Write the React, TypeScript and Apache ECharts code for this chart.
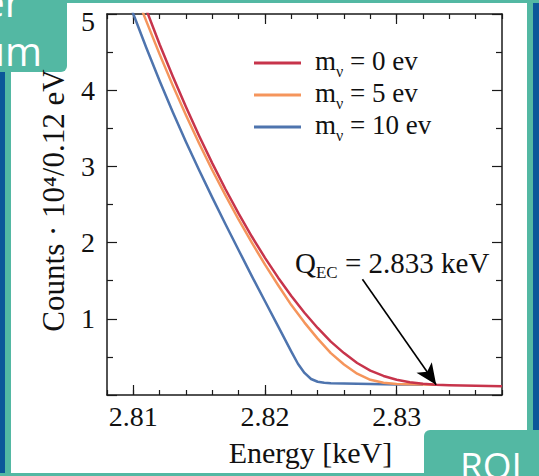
import React, { useEffect, useRef } from 'react';
import * as echarts from 'echarts';

const SERIF = '"Liberation Serif", "Times New Roman", serif';
const SANS = '"Open Sans", "Noto Sans", sans-serif';

// ---- data ----
const massValues = ['0', '5', '10'];
const seriesNames = ['m_nu = 0 ev', 'm_nu = 5 ev', 'm_nu = 10 ev'];
const seriesColors = ['#c7344b', '#f5955c', '#4e74ae'];

const redEnergy = [2.8105, 2.811, 2.812, 2.813, 2.814, 2.815, 2.816, 2.817, 2.818, 2.819, 2.82, 2.821, 2.822, 2.823, 2.824, 2.825, 2.826, 2.827, 2.828, 2.829, 2.83, 2.831, 2.832, 2.833, 2.834, 2.835, 2.836, 2.837, 2.838];
const redCounts = [5.3, 5.05, 4.6, 4.18, 3.78, 3.4, 3.04, 2.7, 2.38, 2.08, 1.8, 1.54, 1.3, 1.08, 0.88, 0.7, 0.55, 0.42, 0.32, 0.25, 0.2, 0.168, 0.148, 0.136, 0.129, 0.124, 0.121, 0.118, 0.116];

const orangeEnergy = [2.8102, 2.811, 2.812, 2.813, 2.814, 2.815, 2.816, 2.817, 2.818, 2.819, 2.82, 2.821, 2.822, 2.823, 2.824, 2.825, 2.826, 2.827, 2.828, 2.829, 2.83, 2.831, 2.832, 2.833];
const orangeCounts = [5.25, 4.9, 4.47, 4.06, 3.67, 3.3, 2.95, 2.62, 2.3, 2.0, 1.71, 1.44, 1.18, 0.95, 0.74, 0.55, 0.4, 0.28, 0.2, 0.16, 0.143, 0.14, 0.138, 0.136];

const blueEnergy = [2.8098, 2.81, 2.811, 2.812, 2.813, 2.814, 2.815, 2.816, 2.817, 2.818, 2.819, 2.82, 2.821, 2.822, 2.8225, 2.823, 2.8235, 2.824, 2.8245, 2.825, 2.826, 2.827, 2.828, 2.829, 2.83, 2.831, 2.832];
const blueCounts = [5.1, 5.0, 4.55, 4.12, 3.71, 3.32, 2.95, 2.59, 2.24, 1.9, 1.56, 1.23, 0.9, 0.57, 0.41, 0.29, 0.21, 0.174, 0.161, 0.155, 0.151, 0.148, 0.145, 0.142, 0.139, 0.137, 0.136];

const xMajorTicks = [2.81, 2.82, 2.83];
const arrowStart = [2.8274, 1.52];
const arrowTip = [2.833, 0.135];

const zip = (xs: number[], ys: number[]) => xs.map((x, i) => [x, ys[i]]);

export default function App() {
  const ref = useRef<HTMLDivElement>(null);
  useEffect(() => {
    if (!ref.current) return;
    const chart = echarts.init(ref.current, undefined, { renderer: 'svg' });
    const teal = '#53b8a3';
    const navy = '#0b5799';
    const axisColor = '#1a1a1a';
    const xBase = {
      type: 'value' as const,
      min: 2.808,
      max: 2.838,
      gridIndex: 0,
      splitLine: { show: false },
    };
    const yBase = {
      type: 'value' as const,
      min: 0,
      max: 5,
      interval: 1,
      gridIndex: 0,
      splitLine: { show: false },
    };
    const lineSeries = (i: number, xs: number[], ys: number[], z: number) => ({
      name: seriesNames[i],
      type: 'line',
      data: zip(xs, ys),
      showSymbol: false,
      smooth: false,
      clip: true,
      lineStyle: { color: seriesColors[i], width: 2.5, join: 'round' },
      itemStyle: { color: seriesColors[i] },
      z,
    });
    const red: any = lineSeries(0, redEnergy, redCounts, 4);
    red.markLine = {
      silent: true,
      symbol: ['none', 'arrow'],
      symbolSize: [14, 21],
      label: { show: false },
      lineStyle: { color: '#000', width: 1.6, type: 'solid' },
      emphasis: { disabled: true },
      data: [[{ coord: arrowStart }, { coord: arrowTip }]],
    };
    const option: any = {
      animation: false,
      backgroundColor: '#ffffff',
      grid: { left: 107, right: 37, top: 14, bottom: 81, containLabel: false },
      xAxis: [
        {
          ...xBase,
          position: 'bottom',
          interval: 0.002,
          axisLine: { show: true, lineStyle: { color: axisColor, width: 1.5 } },
          axisTick: { show: true, inside: true, length: 5, lineStyle: { color: axisColor, width: 1.2 } },
          axisLabel: {
            show: true,
            margin: 7,
            color: '#111',
            fontFamily: SERIF,
            fontSize: 28,
            formatter: (v: number) => {
              const hit = xMajorTicks.find((t) => Math.abs(t - v) < 1e-7);
              return hit !== undefined ? hit.toFixed(2) : '';
            },
          },
          name: 'Energy [keV]',
          nameLocation: 'middle',
          nameGap: 42,
          nameTextStyle: { fontFamily: SERIF, fontSize: 30, color: '#111', padding: [0, 0, 0, 12] },
        },
        {
          ...xBase,
          position: 'bottom',
          axisLine: { show: false },
          axisTick: { show: true, inside: true, length: 10, customValues: xMajorTicks, lineStyle: { color: axisColor, width: 1.2 } },
          axisLabel: { show: false },
        },
        {
          ...xBase,
          position: 'top',
          interval: 0.002,
          axisLine: { show: true, lineStyle: { color: axisColor, width: 1.5 } },
          axisTick: { show: true, inside: true, length: 5, lineStyle: { color: axisColor, width: 1.2 } },
          axisLabel: { show: false },
        },
        {
          ...xBase,
          position: 'top',
          axisLine: { show: false },
          axisTick: { show: true, inside: true, length: 10, customValues: xMajorTicks, lineStyle: { color: axisColor, width: 1.2 } },
          axisLabel: { show: false },
        },
      ],
      yAxis: [
        {
          ...yBase,
          position: 'left',
          axisLine: { show: true, lineStyle: { color: axisColor, width: 1.5 } },
          axisTick: { show: true, inside: true, length: 10, lineStyle: { color: axisColor, width: 1.2 } },
          minorTick: { show: true, splitNumber: 2, length: 6, lineStyle: { color: axisColor, width: 1.2 } },
          minorSplitLine: { show: false },
          axisLabel: {
            show: true,
            margin: 12,
            color: '#111',
            fontFamily: SERIF,
            fontSize: 28,
            formatter: (v: number) => (v === 0 ? '' : v === 5 ? '{t|5}' : String(v)),
            rich: {
              t: { fontFamily: SERIF, fontSize: 28, color: '#111', padding: [15, 0, 0, 0] },
            },
          },
          name: 'Counts · 10⁴/0.12 eV',
          nameLocation: 'middle',
          nameRotate: 90,
          nameGap: 38,
          nameTextStyle: { fontFamily: SERIF, fontSize: 31, color: '#111', padding: [0, 0, 0, 8] },
        },
        {
          ...yBase,
          position: 'right',
          axisLine: { show: true, lineStyle: { color: axisColor, width: 1.5 } },
          axisTick: { show: true, inside: true, length: 10, lineStyle: { color: axisColor, width: 1.2 } },
          minorTick: { show: true, splitNumber: 2, length: 6, lineStyle: { color: axisColor, width: 1.2 } },
          minorSplitLine: { show: false },
          axisLabel: { show: false },
        },
      ],
      legend: {
        show: true,
        orient: 'vertical',
        left: 249,
        top: 42,
        icon: 'rect',
        itemWidth: 47,
        itemHeight: 3,
        itemGap: 0,
        data: [seriesNames[0], seriesNames[1], seriesNames[2]],
        formatter: (name: string) => {
          const i = seriesNames.indexOf(name);
          return `{m0|m}{s|ν}{m| = ${massValues[i]} ev}`;
        },
        textStyle: {
          color: '#111',
          fontFamily: SERIF,
          fontSize: 27,
          rich: {
            m0: { fontFamily: SERIF, fontSize: 27, color: '#111', verticalAlign: 'top', padding: [0, 0, 0, 9] },
            m: { fontFamily: SERIF, fontSize: 27, color: '#111', verticalAlign: 'top' },
            s: { fontFamily: SERIF, fontSize: 16, color: '#111', verticalAlign: 'bottom', lineHeight: 32 },
          },
        },
      },
      series: [
        lineSeries(2, blueEnergy, blueCounts, 2),
        lineSeries(1, orangeEnergy, orangeCounts, 3),
        red,
      ],
      graphic: [
        // outer frame
        { type: 'rect', shape: { x: 0, y: 0, width: 5, height: 476 }, style: { fill: navy }, silent: true },
        { type: 'rect', shape: { x: 533, y: 0, width: 6, height: 476 }, style: { fill: navy }, silent: true },
        { type: 'rect', shape: { x: 5, y: 0, width: 6, height: 476 }, style: { fill: teal }, silent: true },
        { type: 'rect', shape: { x: 527, y: 0, width: 6, height: 476 }, style: { fill: teal }, silent: true },
        { type: 'rect', shape: { x: 0, y: 0, width: 539, height: 3 }, style: { fill: teal }, silent: true },
        { type: 'rect', shape: { x: 0, y: 473, width: 539, height: 3 }, style: { fill: teal }, silent: true },
        // top-left tab
        { type: 'rect', shape: { x: -10, y: -10, width: 77, height: 82, r: [0, 0, 6, 0] }, style: { fill: teal }, silent: true },
        { type: 'text', x: 21, y: 21, style: { text: 'er', fill: '#fff', font: `40px ${SANS}`, align: 'right', verticalAlign: 'bottom' }, silent: true },
        { type: 'text', x: 42, y: 70, style: { text: 'um', fill: '#fff', font: `40px ${SANS}`, align: 'right', verticalAlign: 'bottom' }, silent: true },
        // bottom-right tab
        { type: 'rect', shape: { x: 424, y: 430, width: 130, height: 60, r: [6, 0, 0, 0] }, style: { fill: teal }, silent: true },
        { type: 'text', x: 460, y: 483, style: { text: 'ROI', fill: '#fff', font: `37px ${SANS}`, align: 'left', verticalAlign: 'bottom' }, silent: true },
        // annotation
        {
          type: 'text',
          x: 295,
          y: 248,
          silent: true,
          style: {
            text: '{q|Q}{s|EC}{q| = 2.833 keV}',
            align: 'left',
            verticalAlign: 'top',
            rich: {
              q: { fontFamily: SERIF, fontSize: 29, fill: '#111', color: '#111', verticalAlign: 'top' },
              s: { fontFamily: SERIF, fontSize: 17, fill: '#111', color: '#111', verticalAlign: 'bottom', lineHeight: 33 },
            },
          },
        },
      ],
    };
    chart.setOption(option);
    return () => chart.dispose();
  }, []);
  return <div ref={ref} style={{ position: 'fixed', left: 0, top: 0, width: 539, height: 476 }} />;
}
